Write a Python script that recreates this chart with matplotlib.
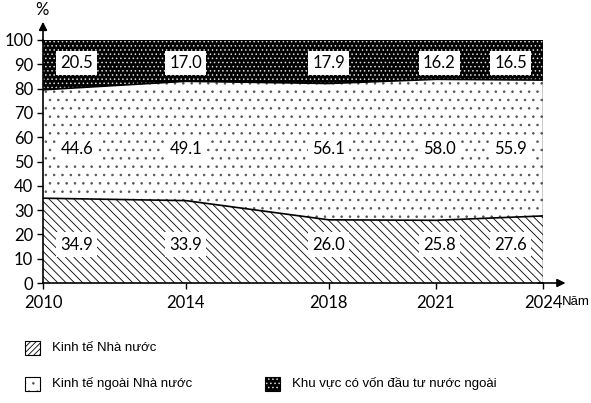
import matplotlib
matplotlib.use("Agg")
import matplotlib.pyplot as plt
from matplotlib.patches import Rectangle

# Data (%)
years = [2010, 2014, 2018, 2021, 2024]
state = [34.9, 33.9, 26.0, 25.8, 27.6]
non_state = [44.6, 49.1, 56.1, 58.0, 55.9]
foreign = [20.5, 17.0, 17.9, 16.2, 16.5]

legend_labels = ["Kinh tế Nhà nước", "Kinh tế ngoài Nhà nước",
                 "Khu vực có vốn đầu tư nước ngoài"]

# where the value boxes sit
label_x = [2010.95, 2014, 2018, 2021.1, 2023.1]
label_y = [15.8, 55.3, 90.5]

num_font = ["Lato", "DejaVu Sans"]
txt_font = ["Liberation Sans", "DejaVu Sans"]

plt.rcParams["hatch.linewidth"] = 0.6

fig = plt.figure(figsize=(5.91, 4.03), dpi=100)
ax = fig.add_axes([43 / 591, 1 - 283 / 403, 500 / 591, 243 / 403])

low = [0] * len(years)
mid = [a + b for a, b in zip(state, non_state)]
top = [a + b for a, b in zip(mid, foreign)]

ax.fill_between(years, low, state, facecolor="white", edgecolor="black",
                hatch="\\\\\\\\", linewidth=0)
ax.fill_between(years, state, mid, facecolor="white", edgecolor="#555555",
                hatch="..", linewidth=0)
ax.fill_between(years, mid, top, facecolor="black", edgecolor="#dddddd",
                hatch="....", linewidth=0)
ax.plot(years, state, color="black", lw=1.2)
ax.plot(years, mid, color="black", lw=1.2)
ax.plot(years, top, color="black", lw=1.2)
ax.axvline(2024, color="black", lw=1)

for i in range(len(years)):
    for vals, y in zip([state, non_state, foreign], label_y):
        ax.text(label_x[i], y, f"{vals[i]:.1f}", ha="center", va="center",
                fontsize=12, family=num_font,
                bbox=dict(facecolor="white", edgecolor="none", pad=3))

ax.set_xlim(2010, 2024)
ax.set_ylim(0, 100)
ax.set_xticks(years)
ax.set_yticks(range(0, 101, 10))
ax.tick_params(labelsize=12, direction="out", length=4, width=1)
for lab in ax.get_xticklabels() + ax.get_yticklabels():
    lab.set_family(num_font)
ax.tick_params(axis="x", pad=5)
ax.tick_params(axis="y", pad=3)

for s in ["top", "right"]:
    ax.spines[s].set_visible(False)
for s in ["left", "bottom"]:
    ax.spines[s].set_linewidth(1.2)

# axis arrows
ax.annotate("", xy=(0, 1.075), xytext=(0, 0.99), xycoords="axes fraction",
            arrowprops=dict(arrowstyle="-|>", color="black", lw=1.2,
                            mutation_scale=12, shrinkA=0, shrinkB=0))
ax.annotate("", xy=(1.045, 0), xytext=(0.99, 0), xycoords="axes fraction",
            arrowprops=dict(arrowstyle="-|>", color="black", lw=1.2,
                            mutation_scale=12, shrinkA=0, shrinkB=0))
fig.text(42 / 591, 1 - 10 / 403, "%", ha="center", va="center",
         fontsize=12, family=num_font)
fig.text(562 / 591, 1 - 302 / 403, "Năm", ha="left", va="center",
         fontsize=9.5, family=txt_font)

# legend drawn by hand
boxes = [(25, 341), (25, 377), (265, 377)]
styles = [dict(facecolor="white", edgecolor="black", hatch="//////"),
          dict(facecolor="white", edgecolor="#555555", hatch=".."),
          dict(facecolor="black", edgecolor="#dddddd", hatch="....")]
for (bx, by), st, lab in zip(boxes, styles, legend_labels):
    fig.patches.append(Rectangle((bx / 591, 1 - (by + 14) / 403), 15 / 591,
                                 14 / 403, transform=fig.transFigure,
                                 linewidth=0, **st))
    fig.patches.append(Rectangle((bx / 591, 1 - (by + 14) / 403), 15 / 591,
                                 14 / 403, transform=fig.transFigure,
                                 facecolor="none", edgecolor="black", lw=0.8))
    fig.text((bx + 27) / 591, 1 - (by + 7) / 403, lab, ha="left", va="center",
             fontsize=9.5, family=txt_font)

fig.savefig("out.png", dpi=100)
